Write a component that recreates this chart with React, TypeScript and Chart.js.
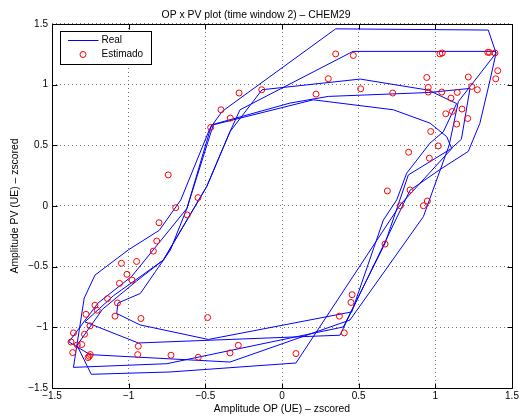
import { useEffect, useRef } from 'react';
import { Chart, registerables } from 'chart.js';

Chart.register(...registerables);

const FONT = 'Liberation Sans, Arial, Helvetica, sans-serif';

const titleText = 'OP x PV plot (time window 2) – CHEM29';
const xLabel = 'Amplitude OP (UE) – zscored';
const yLabel = 'Amplitude PV (UE) – zscored';
const seriesNames = ['Real', 'Estimado'];
const tickValues = [-1.5, -1, -0.5, 0, 0.5, 1, 1.5];

// "Real" trajectory (one connected polyline)
const realX = [
  -1.36, -1.29, -1.22, -1.0, -0.8, -0.66, -0.47, -0.39, 0.35, 1.345, 1.396, 1.35, 1.29, 1.215, 1.03, 0.835, 0.378,
  -0.937, -1.285, -1.1, -0.9, -0.774, -0.491, -0.339, -0.13, 0.51, 0.954, 1.139, 1.052, 0.965, 0.813, 0.748, 0.661,
  0.455, -0.48, -0.926, -1.078, -1.07, -0.924, -0.826, -0.728, -0.62, -0.448, 0.204, 0.726, 0.965, 1.074, 1.107,
  0.77, 0.091, -0.73, -1.244, -1.337, -1.17, -0.95, -0.774, -0.491, -0.339, -0.274, 0.463, 1.39, 1.396, 1.15, 1.09,
  0.922, 0.443, -0.339, -1.252, -1.39, -1.2, -0.98, -0.8, -0.62, -0.459, 0.052, 0.302, 0.954, 1.226, 1.17, 1.1,
  0.824, 0.672, 0.4, -0.752, -1.36,
];
const realY = [
  -1.33, -0.76, -0.57, -0.36, -0.2, 0.05, 0.64, 0.78, 1.46, 1.45, 1.26, 1.0, 0.68, 0.45, 0.3, 0.13, -1.065,
  -1.129, -0.955, -0.74, -0.56, -0.446, 0.16, 0.613, 0.958, 1.046, 0.955, 0.844, 0.611, 0.518, 0.27, 0.05, -0.116,
  -0.873, -1.1, -0.98, -0.886, -0.8, -0.721, -0.542, -0.363, -0.02, 0.669, 0.875, 0.793, 0.683, 0.572, 0.473,
  0.008, -1.294, -1.368, -1.387, -1.148, -0.85, -0.62, -0.446, 0.16, 0.613, 0.793, 1.274, 1.274, 1.26, 0.86, 0.5,
  -0.088, -0.94, -1.286, -1.225, -1.12, -0.8, -0.58, -0.3, -0.02, 0.669, 0.848, 0.903, 0.935, 0.969, 0.55, 0.47,
  0.256, -0.308, -0.997, -1.3, -1.33,
];

// "Estimado" points
const estX = [
  0.35, 0.465, 1.03, 1.045, 1.342, 1.352, 1.389, 1.407, 1.394, 1.215, 0.944, 0.302, 0.954, 0.954, 1.042, 1.143,
  1.102, 1.237, 1.274, 0.513, 0.722, 0.222, -0.132, 1.068, 1.111, 1.174, 1.139, 1.211, 0.97, 1.019, 0.961, 0.826,
  0.687, 0.835, 0.772, 0.922, 0.948, -0.28, -0.398, -0.337, -0.465, -0.742, -0.548, -0.693, -0.618, -0.802, -0.817,
  -0.839, -0.948, -1.047, -1.011, -0.978, -1.06, -1.138, -1.073, -1.22, -1.205, -1.278, -1.089, -0.92, -0.485,
  -1.252, -1.36, -1.288, -1.376, -1.335, -1.306, -1.365, -1.25, -1.257, -1.265, -0.937, -0.941, -0.724, -0.546,
  -0.339, -0.285, 0.091, 0.374, 0.406, 0.45, 0.457, 0.672,
];
const estY = [
  1.253, 1.241, 1.253, 1.261, 1.266, 1.266, 1.261, 1.115, 1.048, 1.063, 1.059, 1.049, 0.977, 0.939, 0.939, 0.936,
  0.889, 0.985, 0.958, 0.966, 0.931, 0.922, 0.958, 0.76, 0.779, 0.799, 0.675, 0.721, 0.614, 0.495, 0.394, 0.443,
  0.124, 0.132, 0.002, 0.002, 0.041, 0.931, 0.793, 0.724, 0.647, 0.256, 0.069, -0.014, -0.074, -0.138, -0.289,
  -0.372, -0.457, -0.472, -0.563, -0.611, -0.638, -0.764, -0.799, -0.818, -0.859, -0.893, -0.908, -0.927, -0.919,
  -0.988, -1.046, -1.057, -1.121, -1.145, -1.142, -1.208, -1.224, -1.238, -1.249, -1.156, -1.225, -1.23, -1.247,
  -1.211, -1.148, -1.216, -0.908, -1.046, -0.795, -0.731, -0.314,
];

function fmt(v: number): string {
  return v < 0 ? '\u2212' + String(Math.abs(v)) : String(v);
}

const framePlugin = {
  id: 'matlabFrame',
  afterDraw(chart: any) {
    const { ctx, chartArea } = chart;
    const { left, right, top, bottom } = chartArea;
    const xs = chart.scales.x;
    const ys = chart.scales.y;
    ctx.save();
    ctx.setLineDash([]);
    ctx.strokeStyle = '#000';
    ctx.lineWidth = 1;
    const L = Math.round(left) + 0.5;
    const R = Math.round(right) + 0.5;
    const T = Math.round(top) + 0.5;
    const B = Math.round(bottom) + 0.5;
    ctx.beginPath();
    ctx.rect(L, T, R - L, B - T);
    const tl = 5;
    for (const v of tickValues) {
      const px = Math.round(xs.getPixelForValue(v)) + 0.5;
      ctx.moveTo(px, B);
      ctx.lineTo(px, B - tl);
      ctx.moveTo(px, T);
      ctx.lineTo(px, T + tl);
      const py = Math.round(ys.getPixelForValue(v)) + 0.5;
      ctx.moveTo(L, py);
      ctx.lineTo(L + tl, py);
      ctx.moveTo(R, py);
      ctx.lineTo(R - tl, py);
    }
    ctx.stroke();

    // legend
    const lx = L + 8;
    const ly = T + 7;
    const lw = 91;
    const lh = 33;
    ctx.fillStyle = '#fff';
    ctx.fillRect(lx, ly, lw, lh);
    ctx.strokeStyle = '#000';
    ctx.lineWidth = 1;
    ctx.strokeRect(lx, ly, lw, lh);
    ctx.strokeStyle = '#0000ff';
    ctx.beginPath();
    ctx.moveTo(lx + 7.5, ly + 9);
    ctx.lineTo(lx + 38, ly + 9);
    ctx.stroke();
    ctx.strokeStyle = '#ff0000';
    ctx.beginPath();
    ctx.arc(lx + 22.5, ly + 23, 3, 0, Math.PI * 2);
    ctx.stroke();
    ctx.fillStyle = '#000';
    ctx.font = `10px ${FONT}`;
    ctx.textAlign = 'left';
    ctx.textBaseline = 'middle';
    ctx.fillText(seriesNames[0], lx + 41, ly + 9);
    ctx.fillText(seriesNames[1], lx + 41, ly + 23);
    ctx.restore();
  },
};

export default function App() {
  const ref = useRef<HTMLCanvasElement | null>(null);
  useEffect(() => {
    if (!ref.current) return;
    Chart.defaults.font.family = FONT;
    Chart.defaults.color = '#000';
    const axisCommon = (isX: boolean) => ({
      type: 'linear' as const,
      position: isX ? ('bottom' as const) : ('left' as const),
      min: -1.5,
      max: 1.5,
      afterBuildTicks: (s: any) => {
        s.ticks = tickValues.map((v) => ({ value: v }));
      },
      ticks: {
        callback: (v: any) => fmt(Number(v)),
        padding: isX ? 2 : 4,
        maxRotation: 0,
        autoSkip: false,
        color: '#000',
        font: { size: 10, family: FONT },
      },
      grid: { color: 'rgba(0,0,0,0.55)', lineWidth: 1, drawTicks: false },
      border: { display: false, dash: [1, 3] },
      title: {
        display: true,
        text: isX ? xLabel : yLabel,
        color: '#000',
        font: { size: 10.4, family: FONT },
        padding: isX ? { top: 0, bottom: 1 } : { top: 9, bottom: 0 },
      },
      afterFit: (s: any) => {
        if (isX) {
          s.height = 28;
          s.paddingLeft = 0;
          s.paddingRight = 0;
        } else {
          s.width = 52;
          s.paddingTop = 0;
          s.paddingBottom = 0;
        }
      },
    });
    const chart = new Chart(ref.current, {
      type: 'scatter',
      data: {
        datasets: [
          {
            label: seriesNames[0],
            data: realX.map((v, i) => ({ x: v, y: realY[i] })),
            showLine: true,
            borderColor: '#0000ff',
            backgroundColor: '#0000ff',
            borderWidth: 1,
            pointRadius: 0,
            pointHoverRadius: 0,
            tension: 0,
            fill: false,
            order: 2,
          },
          {
            label: seriesNames[1],
            data: estX.map((v, i) => ({ x: v, y: estY[i] })),
            showLine: false,
            pointStyle: 'circle',
            pointRadius: 3,
            pointHoverRadius: 3,
            borderColor: '#ff0000',
            backgroundColor: 'rgba(0,0,0,0)',
            borderWidth: 1,
            order: 1,
          },
        ],
      },
      options: {
        responsive: false,
        animation: false,
        events: [],
        layout: { padding: { left: 0, right: 11, top: 0, bottom: 0 } },
        plugins: {
          legend: { display: false },
          tooltip: { enabled: false },
          title: {
            display: true,
            text: titleText,
            color: '#000',
            font: { size: 10.4, weight: 'normal', family: FONT },
            padding: { top: 8.9, bottom: 2.6 },
          },
        },
        scales: {
          x: axisCommon(true) as any,
          y: axisCommon(false) as any,
        },
      },
      plugins: [framePlugin],
    });
    return () => chart.destroy();
  }, []);
  return (
    <div style={{ position: 'absolute', left: 0, top: 0, width: 523, height: 416, background: '#fff' }}>
      <canvas ref={ref} width={523} height={416} style={{ display: 'block' }} />
    </div>
  );
}
